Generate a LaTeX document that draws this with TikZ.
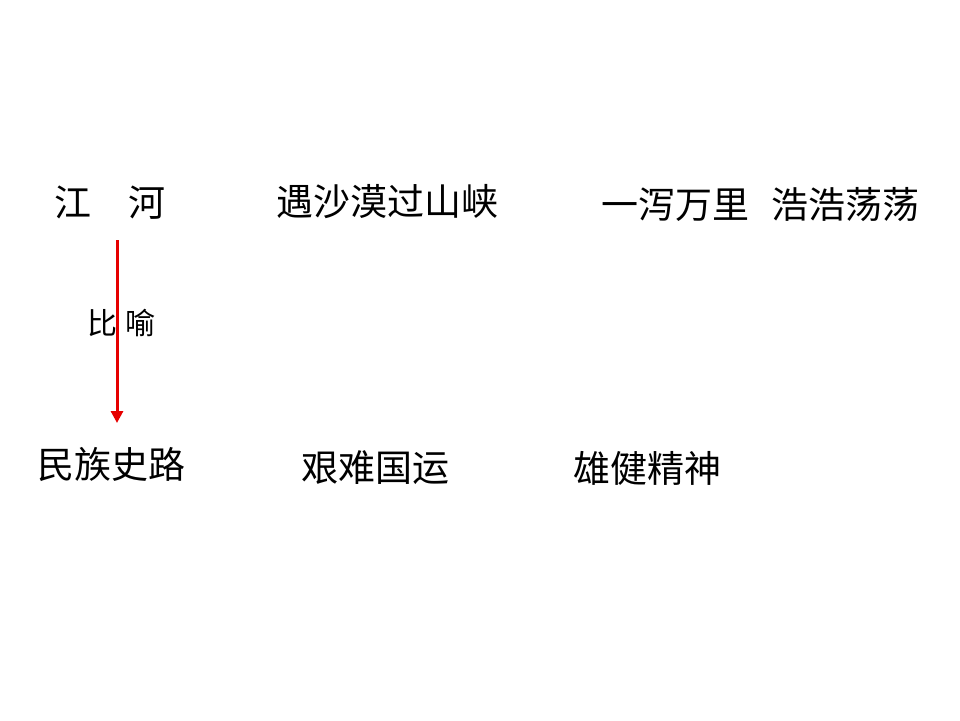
\documentclass[tikz,border=0pt]{standalone}
\usepackage{fontspec}
\newfontfamily\cjk{Noto Sans CJK SC}
\usetikzlibrary{arrows.meta}
\definecolor{arrowred}{RGB}{230,0,0}
\begin{document}
\begin{tikzpicture}[x=1pt,y=-1pt,
  big/.style={anchor=west,inner sep=0pt,font=\cjk\fontsize{37}{40}\selectfont},
  small/.style={anchor=west,inner sep=0pt,font=\cjk\fontsize{30}{32}\selectfont},
  redarrow/.style={draw=arrowred,line width=3pt,-{Triangle[length=12pt,width=12pt]}}]
\useasboundingbox (0,0) rectangle (960,720);
\node[big] (jianghe) at (54,203) {江　河};
\node[big] (shamo) at (276,202) {遇沙漠过山峡};
\node[big] (wanli) at (601,205) {一泻万里\hspace{22pt}浩浩荡荡};
\node[big] (minzu) at (37,464) {民族史路};
\node[big] (jiannan) at (301,468) {艰难国运};
\node[big] (xiongjian) at (573,468) {雄健精神};
\node[small] (biyu) at (87,323) {比\hspace{8pt}喻};
\coordinate (astart) at (117,240);
\coordinate (aend) at (117,423);
\draw[redarrow] (astart) -- (aend);
\end{tikzpicture}
\end{document}
